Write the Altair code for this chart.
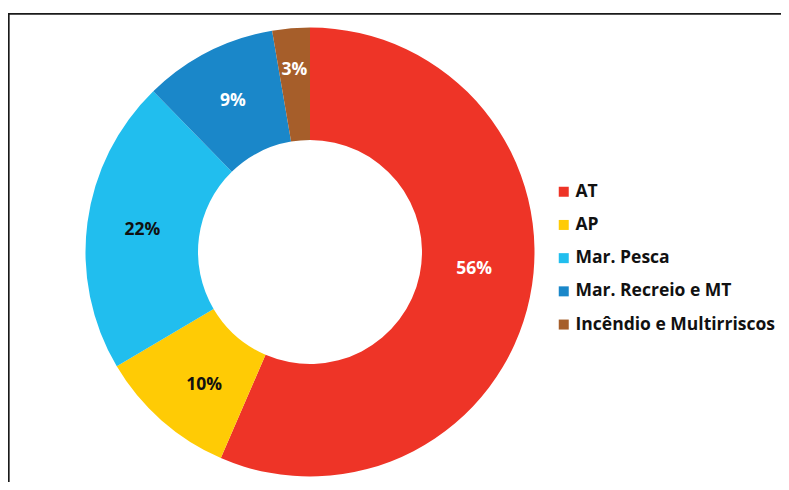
import altair as alt
import pandas as pd

categories = ["AT", "AP", "Mar. Pesca", "Mar. Recreio e MT", "Incêndio e Multirriscos"]
values = [56.5, 10.0, 21.2, 9.6, 2.7]
labels = ["56%", "10%", "22%", "9%", "3%"]
colors = ["#EE3427", "#FFCB05", "#21BEEE", "#1A87C9", "#A65E2A"]

df = pd.DataFrame({"cat": categories, "value": values, "label": labels,
                   "idx": list(range(len(categories)))})

CX, CY = 302, 244
FONT = "Open Sans"

arcs = alt.Chart(df).mark_arc(outerRadius=224.5, innerRadius=112, stroke=None).encode(
    theta=alt.Theta("value:Q", stack=True),
    order=alt.Order("idx:Q", sort="ascending"),
    x=alt.value(CX), y=alt.value(CY),
    color=alt.Color(
        "cat:N",
        scale=alt.Scale(domain=categories, range=colors),
        sort=categories,
        legend=alt.Legend(
            title=None, orient="none", legendX=547, legendY=175,
            symbolType="square", symbolSize=100, symbolStrokeWidth=0,
            labelFont=FONT, labelFontWeight="bold", labelFontSize=17.5,
            labelColor="#111", rowPadding=14.2, labelOffset=3, padding=0,
            labelLimit=0,
        ),
    ),
)

# label layer: mid-angle of each slice computed from the same values
text_base = alt.Chart(df).transform_joinaggregate(
    total="sum(value)"
).transform_window(
    cum="sum(value)", sort=[alt.SortField("idx", order="ascending")]
).transform_calculate(
    mid="(datum.cum - datum.value / 2) / datum.total * 2 * PI"
).encode(
    theta=alt.Theta("mid:Q", scale=None),
    x=alt.value(CX), y=alt.value(CY),
    text="label:N",
)

def labels_layer(cat, color, radius, theta_offset=0.0):
    return text_base.transform_filter(
        alt.FieldEqualPredicate(field="cat", equal=cat)
    ).mark_text(radius=radius, thetaOffset=theta_offset, font=FONT,
                fontWeight="bold", fontSize=17.5, color=color)

t_at = labels_layer("AT", "#ffffff", 165, -0.1)
t_ap = labels_layer("AP", "#111111", 170, -0.05)
t_pe = labels_layer("Mar. Pesca", "#111111", 169)
t_rec = labels_layer("Mar. Recreio e MT", "#ffffff", 170)
t_inc = labels_layer("Incêndio e Multirriscos", "#ffffff", 183)

one = alt.Chart(alt.Data(values=[{}]))
top_rule = one.mark_rule(color="#1a1a1a", strokeWidth=1.7).encode(
    x=alt.value(0), x2=alt.value(773), y=alt.value(5.8))
left_rule = one.mark_rule(color="#1a1a1a", strokeWidth=1.7).encode(
    x=alt.value(0.8), y=alt.value(5), y2=alt.value(474))

chart = alt.layer(top_rule, left_rule, arcs, t_at, t_ap, t_pe, t_rec, t_inc).properties(
    width=773, height=474, padding=0,
    autosize=alt.AutoSizeParams(type="none"),
    background="white",
).configure_view(stroke=None)

chart.save("out.html", embed_options={"renderer": "svg", "actions": False})
